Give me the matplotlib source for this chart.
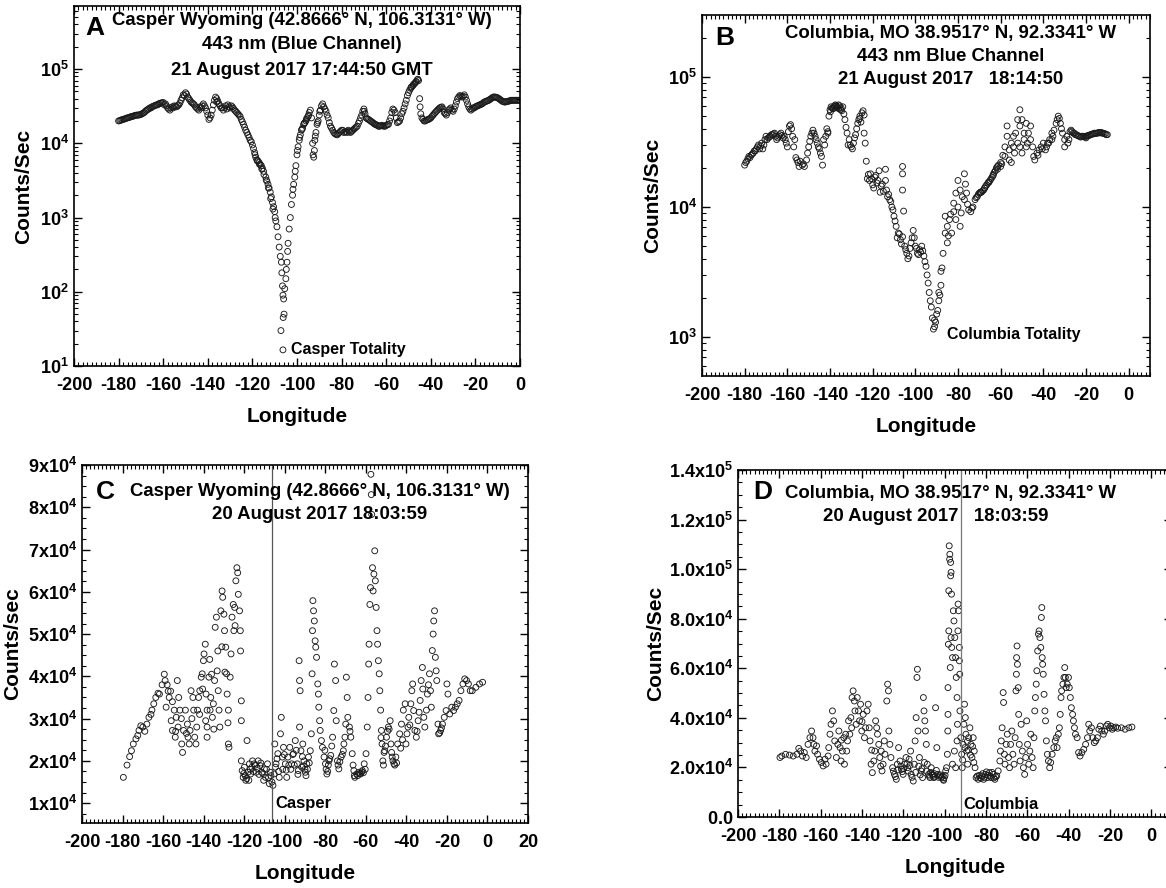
import numpy as np
import matplotlib
matplotlib.use('Agg')
import matplotlib.pyplot as plt
from matplotlib.ticker import FixedLocator, MultipleLocator, AutoMinorLocator, FuncFormatter, LogLocator, NullFormatter

plt.rcParams['font.family'] = ['Liberation Sans', 'DejaVu Sans']
plt.rcParams['font.weight'] = 'bold'
plt.rcParams['axes.unicode_minus'] = False
plt.rcParams['mathtext.fontset'] = 'custom'
plt.rcParams['mathtext.bf'] = 'Liberation Sans:bold'
plt.rcParams['mathtext.rm'] = 'Liberation Sans:bold'

# ---------------- Panel A: Casper, 21 Aug 2017 (counts in thousands)
a_lon = [-180, -179, -178, -177, -176, -175, -174, -173, -172, -171,
         -170, -169, -168, -167, -166, -165, -164, -163, -162, -161,
         -160, -159, -158, -157, -156, -155, -154, -153, -152, -151,
         -150, -149.5, -149, -148, -147, -146, -145, -144, -143, -142,
         -141, -140, -139.5, -139, -138, -137, -136.5, -136, -135, -134,
         -133, -132, -131, -130, -129, -128, -127, -126, -125, -124,
         -123, -122, -121, -120, -119, -118.5, -118, -117, -116, -115,
         -114, -113, -112, -111, -110, -109.5, -109, -108.5, -108, -107.5,
         -107, -106.8, -106.5, -106.3, -106, -106.2, -105.8, -107.2, -105.5, -105,
         -104.8, -104.5, -104.2, -104, -103.5, -103, -102.5, -102, -101.5, -101,
         -100.5, -100, -99.5, -99, -98.5, -98, -97, -96, -95, -94.5,
         -94, -93.5, -93, -92.8, -92.5, -92.2, -92, -91.5, -91, -90,
         -89, -88.5, -88, -87, -86, -85, -84, -83, -82, -81,
         -80, -79, -78, -77, -76, -75, -74, -73, -72, -71,
         -70, -69.5, -69, -68, -67, -66, -65, -64, -63, -62,
         -61, -60, -59, -58, -57, -56, -55, -54, -53, -52,
         -51, -50, -49, -48, -47, -46, -45.5, -45, -44.8, -44.5,
         -44, -43, -42, -41, -40, -39, -38, -37, -36, -35,
         -34, -33, -32, -31, -30, -29, -28, -27, -26, -25,
         -24, -23, -22, -21, -20, -19, -18, -17, -16, -15,
         -14, -13, -12, -11, -10, -9, -8, -7, -6, -5,
         -4, -3, -2, -1, 0,
         -165.5, -162.5, -159.5, -155.5, -152.5, -150.5, -147.5, -145.5, -143.5, -141.5,
         -138.5, -137.5, -135.5, -133.5, -131.5, -129.5, -127.5, -125.5, -123.5, -121.5,
         -119.5, -117.5, -116.5, -115.5, -113.5, -112.5, -111.5, -110.5, -97.5, -96.5,
         -95.5, -90.5, -89.5, -87.5, -86.5, -84.5, -83.5, -81.5, -79.5, -77.5,
         -75.5, -73.5, -71.5, -70.5, -68.5, -66.5, -63.5, -60.5, -58.5, -57.5,
         -55.5, -53.5, -51.5, -50.5, -49.5, -48.5, -47.5, -46.5, -42.5, -40.5,
         -38.5, -36.5, -34.5, -32.5, -30.5, -28.5, -26.5, -24.5, -22.5, -20.5,
         -18.5, -16.5, -14.5, -12.5, -10.5, -8.5, -6.5, -3.5,
         -179.5, -178.5, -177.5, -176.5, -175.5, -174.5, -173.5, -172.5, -171.5, -170.5,
         -169.5, -168.5, -167.5, -166.5, -164.5, -163.5, -161.5, -160.5, -158.5, -157.5,
         -156.5, -154.5, -153.5, -151.5, -148.5, -146.5, -144.5, -142.5, -140.5, -136,
         -134.5, -132.5, -130.5, -128.5, -126.5, -124.5, -122.5, -120.5, -118.8, -117.8,
         -116.8, -115.8, -114.8, -113.8, -112.8, -111.8, -110.8, -109.8, -101.8, -100.8,
         -99.8, -98.8, -97.8, -96.8, -95.8, -94.8, -91.8, -90.8, -89.8, -85.5,
         -82.5, -80.5, -78.5, -76.5, -74.5, -72.5, -69.8, -67.5, -65.5, -64.5,
         -62.5, -61.5, -59.5, -56.5, -54.5, -52.5, -48.8, -47.8, -46.8, -45.8,
         -43.5, -41.5, -39.5, -37.5, -35.5, -33.5, -31.5, -29.5, -27.5, -25.5,
         -23.5, -21.5, -19.5, -17.5, -15.5, -13.5, -11.5, -9.5, -7.5, -5.5,
         -4.5, -2.5, -1.5, -0.5]
a_kcounts = [20, 20.5, 21, 21.5, 22, 22.5, 23, 23.5, 24, 24,
             24.5, 25.5, 27, 28.5, 30, 31, 32, 33, 34, 35,
             35.5, 34, 30, 28, 31, 32, 31, 33, 38, 45,
             48, 46, 42, 38, 35, 33, 30, 28, 30, 34,
             30, 24, 21, 22, 28, 38, 42, 40, 34, 30,
             28, 32, 33, 30, 31, 28, 26, 24, 21, 18,
             15, 13, 11, 9.5, 7.5, 6.5, 6, 5.5, 5, 4.2,
             3.5, 2.8, 2.2, 1.6, 1.2, 0.9, 0.75, 0.55, 0.4, 0.3,
             0.25, 0.18, 0.12, 0.09, 0.08, 0.045, 0.05, 0.03, 0.11, 0.15,
             0.2, 0.25, 0.35, 0.45, 0.7, 1.0, 1.5, 2.0, 2.8, 3.5,
             5, 7, 9, 11, 13, 15, 18, 20, 23, 26,
             28, 22, 10, 7, 6.5, 8, 11, 14, 18, 24,
             32, 34, 31, 27, 22, 17, 15, 13.5, 13, 14,
             15, 14, 14.5, 15, 14, 15, 16, 17, 20, 24,
             29, 25, 22, 21, 20, 19, 18, 17.5, 17, 17.5,
             17, 17.5, 18, 22, 29, 26, 19, 20, 25, 30,
             38, 48, 55, 60, 65, 72, 70, 40, 31, 25,
             22, 20, 20.5, 21, 22, 24, 26, 28, 30, 31,
             26, 24, 28, 30, 27, 32, 40, 44, 42, 45,
             38, 31, 28, 30, 31, 32, 33, 34, 36, 37,
             38, 40, 42, 42, 41, 39, 37, 36, 36.5, 37,
             38, 38, 38, 38, 38,
             30, 33, 33, 30, 35, 44, 36, 31, 31, 32,
             24, 33, 37, 30, 29, 32, 27, 23, 16.5, 12,
             8.5, 5.8, 5.2, 4.6, 3.1, 2.5, 1.9, 1.4, 16, 19,
             22, 20, 28, 29, 24, 16, 14, 13.5, 15, 14,
             14.5, 16.5, 22, 27, 21.5, 19.5, 17, 17, 20, 26,
             22, 22, 34, 44, 52, 58, 63, 68, 20, 21.5,
             25, 29, 29, 26, 28, 36, 43, 42, 29, 30,
             32.5, 35, 37.5, 41, 41.5, 38, 36, 38,
             20.2, 20.8, 21.2, 21.8, 22.2, 22.8, 23.2, 23.8, 24, 24.3,
             25, 26, 27.8, 29, 31.5, 32.5, 34.5, 35, 32, 29,
             30, 31.5, 32, 41, 40, 34, 29, 32, 27, 36,
             32, 30, 31, 29.5, 25, 19.5, 14, 10.5, 7, 5.8,
             5.2, 4.5, 3.8, 3.2, 2.5, 1.8, 1.3, 1.0, 2.4, 4.2,
             8, 12, 15.5, 18.5, 21, 24, 12.5, 19, 27, 19,
             13.2, 14.5, 14.2, 14.5, 15.5, 18.5, 27, 20.5, 18.5, 17.8,
             17.2, 17.2, 17.8, 28, 19.5, 27, 57, 62, 67, 73,
             21, 20.8, 23, 27, 30.5, 25, 29, 29, 42, 43,
             34, 29, 31.5, 33.5, 36.5, 39, 42, 40, 36.5, 36.8,
             37.5, 38, 38, 38]
a_totality = (-106.3, 0.0165)

# ---------------- Panel B: Columbia, 21 Aug 2017 (thousands)
b_lon = [-180, -179, -178, -177, -176, -175, -174, -173, -172, -171,
         -170, -169, -168, -167, -166, -165, -164, -163, -162, -161,
         -160, -159, -158, -157.5, -157, -156.5, -156, -155, -154, -153,
         -152, -151, -150, -149, -148, -147, -146, -145, -144, -143.5,
         -143, -142, -141, -140, -139, -138, -137, -136, -135, -134,
         -133, -132, -131, -130, -129, -128, -127, -126, -125, -124,
         -124, -123.5, -123, -122, -121, -120, -119, -118, -117, -116,
         -115, -114, -114, -113, -112, -111, -110, -109, -108, -107,
         -106, -106, -106, -106, -105.5, -105, -104, -103, -102, -101,
         -100, -99, -98, -97, -96, -95, -94, -93, -92, -91,
         -91, -90, -89, -89, -88, -88, -87, -86, -86, -85,
         -85, -84, -83, -82, -82, -81, -81, -80, -80, -79,
         -79, -78, -77, -77, -76, -75, -74, -73, -72, -71,
         -70, -69, -68, -67, -66, -65, -64, -63, -62, -61,
         -60, -60, -59, -58, -58, -57, -57, -56, -56, -55,
         -55, -54, -54, -53, -52, -52, -51, -51, -51, -50,
         -50, -49, -49, -48, -48, -47, -46, -46, -45, -44,
         -43, -42, -41, -40, -39, -38, -37, -36, -36, -35,
         -34, -33, -32, -31, -30, -30, -29, -28, -27, -26,
         -25, -24, -23, -22, -21, -20, -19, -18, -17, -16,
         -15, -14, -13, -12, -11, -10,
         -179.5, -177.5, -175.5, -173.5, -171.5, -169.5, -167.5, -165.5, -163.5, -161.5,
         -159.5, -158.5, -155.5, -154.5, -152.5, -150.5, -149.5, -147.5, -146.5, -144.5,
         -142.5, -141.5, -140.5, -139.5, -138.5, -137.5, -136.5, -135.5, -134.5, -133.5,
         -132.5, -131.5, -130.5, -129.5, -128.5, -127.5, -126.5, -125.5, -124.5, -122.5,
         -121.5, -120.5, -119.5, -118.5, -117.5, -116.5, -115.5, -113.5, -112.5, -111.5,
         -110.5, -109.5, -108.5, -107.5, -106.5, -104.5, -103.5, -102.5, -101.5, -100.5,
         -99.5, -98.5, -97.5, -96.5, -95.5, -94.5, -93.5, -92.5, -91.5, -90.5,
         -89.5, -88.5, -87.5, -84.5, -83.5, -78.5, -76.5, -75.5, -73.5, -71.5,
         -69.5, -67.5, -65.5, -63.5, -61.5, -59.5, -53.5, -47.5, -44.5, -42.5,
         -40.5, -38.5, -37.5, -35.5, -33.5, -32.5, -31.5, -28.5, -26.5, -24.5,
         -22.5, -20.5, -18.5, -16.5, -14.5, -12.5, -10.5,
         -178.5, -176.5, -174.5, -172.5, -170.5, -168.5, -166.5, -164.5, -162.5, -160.5,
         -148.5, -145.5, -141, -139.8, -138.8, -137.8, -136.8, -135.8, -134.8, -126,
         -70.5, -69.5, -68.5, -67.5, -66.5, -65.5, -64.5, -63.5, -62.5, -61.5,
         -23.5, -21.5, -19.5, -17.5, -15.5, -13.5, -11.5, -20, -25.5, -27.5]
b_kcounts = [21, 22.5, 24.5, 25, 26, 27, 29, 28, 31, 30,
             35, 34, 35, 36, 37, 33, 35, 37, 34, 33,
             29, 42, 40, 35, 29, 33, 24, 22, 22.5, 21,
             20.5, 23, 29, 35, 39, 35, 31, 28, 24.5, 21,
             33, 35, 37, 56, 58, 59, 60, 61, 56, 59,
             47, 37, 33, 29, 31, 36, 44, 50, 53, 51,
             37, 31, 22.5, 17.8, 18, 14.8, 17, 15.3, 19, 14.5,
             13.2, 16, 19.5, 12, 11.4, 10, 8.5, 7.1, 6.3, 5.6,
             5.9, 20.5, 18, 13.5, 9.3, 5, 4.4, 4.2, 5.3, 6.6,
             5, 4.4, 4.7, 5, 4.2, 3.5, 2.6, 1.9, 1.4, 1.2,
             1.35, 1.5, 1.9, 2.2, 2.5, 3.2, 4.4, 6.3, 8.5, 5.3,
             7.1, 8, 6.3, 10.7, 9.2, 12.8, 8, 16, 10, 13.5,
             7.1, 12, 18, 11.4, 12.8, 9.5, 9.2, 10, 11.4, 12,
             12.8, 13, 13.5, 14.5, 15.3, 16, 17, 18.5, 20, 21,
             22, 20.5, 25, 29, 24.5, 42, 35, 27.5, 23, 22,
             31, 29, 35, 37, 31, 47, 56, 29, 42, 26,
             47, 37, 33, 44, 29, 37, 33, 42, 29, 23,
             26, 27.5, 29, 31, 27.5, 31, 33, 33, 37, 39,
             44, 50, 44, 37, 33, 29, 35, 33, 39, 37,
             36, 35.5, 35, 35, 35, 35, 35.5, 36, 36.5, 37,
             37, 37.5, 37.5, 37, 36.5, 36,
             22, 24, 27, 30, 28, 33, 36, 35, 36, 35,
             38, 43, 23, 20.5, 21.5, 26, 32, 37, 33, 26,
             30, 40, 50, 59, 57, 61, 58, 60, 55, 52,
             41, 30, 30, 28, 34, 40, 47, 45, 55, 16.5,
             16, 16.5, 14, 17.5, 16, 13, 15, 13.5, 12.5, 11,
             9.5, 7.8, 5.8, 6.2, 5.2, 4.7, 4, 4.8, 5.8, 5.8,
             4.8, 4.3, 4.5, 4.6, 3.8, 3, 2.2, 1.7, 1.15, 1.3,
             1.6, 2.1, 3.4, 6, 8.8, 9, 15, 10.5, 9.8, 11.8,
             13, 14, 15.5, 17.5, 19.5, 21.5, 26, 31, 24.5, 25,
             28, 29, 31, 35, 47, 48, 40, 31, 38, 36,
             34.5, 34.5, 35.5, 36.5, 37, 37, 36,
             23.5, 25.5, 28, 29.5, 33, 34.5, 36.5, 34, 35.5, 31,
             37, 29, 38, 54, 57, 60, 59, 57, 58, 48,
             12.5, 12.9, 13.3, 14, 14.8, 15.6, 16.5, 17.8, 19, 20.5,
             35.2, 35, 35.2, 36.2, 36.8, 37.2, 36.8, 34, 37, 38]

# ---------------- Panel C: Casper, 20 Aug 2017 (thousands)
c_lon = [-179.6, -177.8, -176.5, -175.6, -174.7, -173.4, -171.9, -171.0, -169.0, -168.0,
         -167.0, -165.5, -164.6, -163.6, -161.8, -160.5, -159.4, -158.0, -157.0, -158.5,
         -156.3, -155.4, -154.5, -156.0, -155.4, -154.0, -153.5, -152.6, -153.0, -152.3,
         -151.7, -150.8, -150.4, -149.9, -149.0, -148.0, -147.7, -147.1, -146.7, -146.2,
         -145.3, -144.9, -144.4, -143.8, -143.4, -143.0, -142.5, -141.9, -141.2, -140.7,
         -140.1, -139.8, -139.2, -138.8, -138.3, -138.3, -138.3, -137.4, -137.0, -136.1,
         -136.5, -135.7, -135.2, -134.6, -134.3, -133.7, -133.3, -132.8, -132.4, -132.0,
         -131.5, -130.9, -130.6, -130.0, -129.7, -129.1, -128.7, -128.4, -127.8, -127.8,
         -127.5, -126.9, -126.5, -126.0, -125.4, -125.1, -124.7, -124.1, -123.6, -123.2,
         -122.9, -122.3, -121.9, -121.8, -121.4, -121.4, -121.4, -121.0, -120.5, -119.9,
         -119.2, -118.6, -118.1, -117.7, -117.4, -116.8, -115.9, -115.0, -114.1, -113.1,
         -112.2, -111.3, -110.4, -110.0, -109.5, -108.5, -107.6, -107.1, -106.3, -105.8,
         -105.2, -104.9, -104.3, -103.4, -102.7, -102.1, -101.7, -101.2, -100.6, -99.7,
         -99.0, -98.4, -97.5, -96.6, -95.7, -94.8, -93.8, -93.3, -92.9, -92.7,
         -92.4, -92.7, -92.0, -91.6, -91.1, -90.5, -89.8, -89.1, -88.3, -87.4,
         -86.9, -86.5, -86.3, -86.1, -85.8, -85.4, -85.0, -84.7, -84.3, -83.7,
         -83.4, -83.2, -82.8, -82.5, -81.9, -81.4, -80.6, -79.9, -79.2, -78.2,
         -77.3, -76.4, -75.8, -75.5, -74.9, -74.6, -74.0, -73.3, -72.2, -71.1,
         -70.3, -69.9, -69.6, -69.2, -68.9, -68.1, -67.4, -66.7, -65.9, -65.4,
         -64.5, -63.5, -62.6, -61.7, -60.8, -59.9, -59.3, -58.9, -58.6, -58.4,
         -58.0, -57.7, -57.5, -57.3, -57.1, -56.7, -56.4, -56.0, -55.6, -55.3,
         -54.9, -54.5, -54.2, -53.8, -53.4, -53.1, -52.7, -52.3, -52.0, -51.6,
         -50.7, -49.8, -48.9, -48.0, -47.6, -47.0, -46.1, -45.2, -44.3, -43.3,
         -42.4, -41.5, -40.6, -40.2, -39.7, -38.8, -37.8, -37.3, -36.9, -36.4,
         -35.8, -35.1, -34.2, -33.2, -32.7, -32.1, -31.4, -30.9, -30.1, -29.6,
         -28.6, -28.1, -27.7, -27.2, -26.8, -26.5, -26.1, -25.7, -25.3, -25.0,
         -24.4, -24.1, -23.1, -22.2, -21.3, -20.4, -20.0, -19.5, -18.6, -17.6,
         -16.7, -15.8, -14.9, -14.0, -13.1, -12.1, -11.2, -10.3, -9.4, -8.5,
         -7.5, -5.7, -3.9, -2.4,
         -172.5, -170, -166, -162.5, -159, -157.5, -153.8, -151, -148.5, -145.8,
         -142, -140.5, -139, -136.8, -135, -133, -131, -129.5, -128, -124.5,
         -120.2, -119.5, -118.8, -117, -116.2, -115.5, -114.5, -113.6, -112.7, -111.8,
         -110.8, -109, -108, -106.8, -104.6, -103.8, -103, -101, -100.2, -99.3,
         -98, -97, -96, -95.3, -94.3, -93.5, -91.3, -90.8, -90, -89.5,
         -88.8, -87.9, -80.2, -79.6, -78.8, -78.5, -77.8, -76.8, -73.7, -72.8,
         -71.6, -70.8, -67.8, -66.3, -65.7, -64, -63, -62, -61.2, -60.3,
         -52.5, -51.3, -51, -50.3, -49.3, -48.5, -47.3, -46.6, -45.7, -44.8,
         -42.8, -41.9, -39.2, -38.3, -34.7, -33.7, -31.9, -29.1, -23.6, -22.7]
c_kcounts = [16.1, 19, 21, 22.4, 24, 25.2, 27.2, 28.3, 27, 28.7,
             30.3, 32, 33.5, 35, 35.8, 38, 40.5, 38, 35, 32.7,
             36.5, 34, 32, 29.5, 27.2, 25.6, 30.3, 28, 39, 35,
             32, 24, 22, 27.2, 32, 28.7, 25.6, 24, 27.2, 36.6,
             35, 32, 25.6, 24, 28, 32, 35, 36.6, 39.8, 40.6,
             43.7, 45.3, 47.6, 35.8, 32, 28, 25.6, 39.8, 44, 40.5,
             35, 30.3, 33.5, 39, 51.6, 54, 41.3, 36.6, 32, 28,
             55.5, 60.2, 58.7, 54.7, 50.8, 46.9, 40.6, 35.8, 32, 24,
             23.2, 39.8, 45.3, 54, 57, 50.8, 56.3, 62.6, 65.7, 64.5,
             59.4, 55.5, 50.8, 46, 34.2, 29.5, 20, 17.7, 16.1, 18.5,
             15.4, 24.8, 17.3, 15.4, 19.3, 16.9, 20, 19.3, 17.3, 20,
             18.9, 17.3, 15.4, 18.1, 16.1, 19.3, 14.6, 17.3, 15, 14.2,
             16.9, 24, 19.3, 21.7, 16.1, 26.4, 30.3, 20.9, 23.2, 19.3,
             16.1, 20.9, 23.2, 19.3, 21.7, 24.8, 19.3, 17.7, 43.7, 39,
             36.6, 28, 22.4, 18.5, 24, 20, 17.3, 19.3, 20.9, 22.4,
             26.4, 40.6, 50.8, 57.9, 55.5, 53.1, 48.4, 46.9, 44.5, 38.2,
             35.8, 32.7, 29.5, 27.2, 24.8, 23.2, 20.9, 19.3, 16.9, 20,
             21.3, 25.6, 31.9, 42.9, 39, 29.5, 20, 18.1, 20.9, 22.4,
             25.6, 28.7, 39.8, 35, 30.3, 28, 25.6, 21.7, 17.7, 16.1,
             16.9, 17.3, 16.9, 17.7, 19.3, 21.7, 28, 35, 42.9, 47.6,
             57, 61, 87.8, 83, 78.3, 65.7, 60.2, 64.2, 69.7, 62.6,
             56.3, 50.8, 47.6, 43.7, 40.6, 36.6, 32, 27.2, 24, 20,
             22.4, 25.6, 28, 29.5, 24, 20.9, 19.3, 20.9, 24, 26.4,
             28.7, 32, 33.5, 24, 26.4, 30.3, 33.5, 36.6, 38.2, 31.9,
             27.2, 25.6, 29.5, 34.3, 39, 42.1, 30.3, 28, 32, 35.8,
             40.6, 36.6, 32.7, 46.1, 50, 53.1, 55.5, 44.5, 41.3, 39,
             28.7, 26.4, 27.2, 28.7, 30.3, 31.9, 38.2, 35.8, 31.1, 32.7,
             31.9, 32.7, 33.5, 34.3, 36.6, 38.2, 39.4, 39, 38.2, 36.6,
             36.6, 37.4, 38.2, 38.6,
             26, 28, 31, 36, 39, 36.5, 27, 30, 26.5, 30,
             31, 37, 29.5, 32, 27.5, 46, 47, 41, 29, 52,
             17, 16.5, 15.8, 18, 18.5, 17.5, 19, 18.2, 16.8, 19.5,
             17, 18, 16, 16.5, 18.5, 20.5, 17.5, 18, 21.5, 17.8,
             19, 18, 21.5, 19, 22.5, 16.8, 21, 18.8, 18, 16.5,
             18, 19.5, 22.5, 18, 17.5, 19, 20.5, 23.5, 19, 19.8,
             21.5, 24, 27, 19, 16.5, 16.5, 17, 17.4, 17.2, 18,
             25.5, 19, 22, 23.5, 27, 27.5, 22, 20, 19, 19.5,
             23, 25, 28, 28.5, 27, 31.5, 37, 38, 26.6, 27.8]
casper_lon = -106.3131

# ---------------- Panel D: Columbia, 20 Aug 2017 (thousands)
d_lon = [-179.7, -178.8, -177.0, -175.1, -173.3, -171.5, -170.6, -169.7, -168.8, -167.9,
         -167.0, -166.1, -165.2, -164.4, -163.7, -163.3, -162.8, -162.0, -161.5, -160.6,
         -159.7, -158.8, -157.9, -157.4, -156.4, -156.1, -155.5, -155.0, -154.3, -153.7,
         -153.2, -152.4, -151.7, -151.2, -150.6, -150.1, -149.5, -148.8, -148.5, -147.9,
         -147.4, -147.0, -146.5, -145.9, -145.4, -144.8, -144.3, -143.7, -143.4, -142.8,
         -142.3, -141.7, -141.2, -140.7, -140.1, -139.4, -138.8, -138.3, -137.6, -137.0,
         -136.5, -136.1, -135.6, -135.0, -134.3, -133.8, -133.4, -132.9, -132.5, -131.9,
         -131.4, -130.7, -130.3, -129.8, -129.2, -128.9, -128.0, -127.6, -127.2, -127.0,
         -126.5, -126.0, -125.2, -124.3, -123.4, -122.9, -122.3, -121.6, -120.9, -120.1,
         -119.4, -118.7, -117.9, -117.2, -116.5, -116.2, -115.2, -114.7, -114.3, -113.8,
         -113.4, -113.2, -112.9, -112.2, -111.4, -110.7, -110.3, -110.0, -109.6, -109.3,
         -108.9, -108.4, -107.8, -107.1, -106.5, -106.0, -105.3, -104.4, -103.8, -103.4,
         -102.5, -101.6, -100.7, -100.2, -99.5, -99.1, -98.7, -98.5, -98.4, -98.4,
         -98.2, -98.0, -98.0, -97.8, -97.6, -97.5, -97.1, -96.9, -97.1, -96.7,
         -97.3, -96.9, -96.6, -96.2, -95.8, -95.5, -95.1, -94.7, -94.4, -94.0,
         -93.8, -93.6, -93.5, -93.3, -92.9, -92.9, -92.7, -94.0, -95.3, -96.2,
         -94.7, -92.6, -92.2, -91.8, -91.5, -91.1, -90.7, -90.4, -90.0, -89.7,
         -89.3, -88.9, -88.4, -87.8, -87.3, -86.8, -86.2, -85.7, -85.3, -84.8,
         -83.8, -82.9, -82.0, -81.1, -80.2, -79.3, -78.4, -77.5, -76.6, -75.7,
         -74.8, -74.1, -73.3, -73.0, -72.6, -72.2, -71.7, -71.5, -71.1, -70.8,
         -70.2, -69.7, -69.1, -68.6, -68.1, -67.5, -67.0, -66.4, -65.9, -65.5,
         -65.3, -65.2, -65.0, -64.8, -64.4, -64.2, -63.9, -63.5, -63.0, -62.4,
         -61.9, -61.3, -60.8, -60.3, -59.9, -59.3, -58.8, -58.3, -57.7, -57.2,
         -56.8, -56.4, -56.1, -55.7, -55.4, -55.0, -54.6, -54.3, -53.9, -53.5,
         -53.2, -53.0, -52.8, -52.6, -52.3, -51.9, -51.5, -51.2, -50.8, -50.3,
         -49.8, -49.2, -48.7, -48.0, -47.2, -46.5, -46.0, -45.6, -45.0, -44.5,
         -44.1, -43.7, -43.4, -42.8, -42.3, -41.9, -41.6, -41.2, -40.7, -40.1,
         -39.7, -39.2, -38.7, -38.1, -37.7, -37.2, -36.7, -35.9, -35.2, -34.5,
         -33.6, -32.7, -31.8, -30.9, -30.3, -29.8, -29.0, -28.3, -27.6, -26.9,
         -26.1, -25.4, -24.7, -24.0, -23.2, -22.5, -21.8, -21.1, -20.3, -19.6,
         -18.9, -18.2, -17.2, -16.3, -14.5, -12.7, -10.9, -9.4,
         -124.8, -123.8, -122.6, -121.2, -120.5, -119.8, -118.2, -117.6, -116.8, -115.8,
         -114, -112.6, -111.8, -111, -109.8, -108.7, -107.4, -106.8, -105.7, -105,
         -104.8, -104, -103, -102, -101.2, -100.5, -99.8, -84.3, -83.3, -82.4,
         -81.6, -80.7, -79.8, -78.9, -78, -77.1, -76.2, -75.3, -88.6, -87.5,
         -86.5, -85.9, -91.3, -90.2, -89, -150, -145, -140, -135.3, -131]
d_kcounts = [24, 24.6, 25.3, 25, 24.6, 25.3, 27.7, 26.6, 24.6, 26,
             24, 29.3, 32, 34.7, 32, 29.3, 26.6, 28.7, 25.3, 23.3,
             22, 20.6, 23.3, 21.3, 24.6, 28, 33.4, 37.4, 42.8, 38.8,
             30.7, 24, 29.3, 34.7, 28, 22.6, 26.6, 32, 21.3, 33.4,
             26.6, 30.7, 38.8, 33.4, 40.1, 48.2, 50.9, 46.8, 42.8, 37.4,
             48.2, 42.8, 38.8, 45.5, 34.7, 41.4, 32, 36, 42.8, 45.5,
             36, 30.7, 21.3, 17.9, 22.6, 26.6, 38.8, 36, 33.4, 29.3,
             24, 26.6, 18.6, 21.3, 30.7, 25.3, 46.8, 53.6, 50.9, 34.7,
             29.3, 24, 19.9, 17.2, 15.2, 21.3, 28, 22.6, 19.2, 17.2,
             21.3, 24, 19.9, 23.3, 26.6, 17.2, 14.5, 21.3, 30.7, 40.1,
             56.3, 59.6, 34.7, 24, 18.6, 15.9, 48.2, 42.8, 38.8, 34.7,
             29.3, 21.3, 17.2, 15.9, 19.9, 17.2, 15.9, 44.1, 28, 17.2,
             16.6, 15.9, 15.2, 15.9, 18.6, 19.9, 25.3, 34.7, 41.4, 52.2,
             69.7, 75.1, 91.3, 109.4, 104, 106, 102.7, 98.7, 97.3, 89.9,
             60.3, 72.4, 68.4, 64.3, 83.2, 79.1, 72.4, 64.3, 56.3, 48.2,
             37.4, 75.1, 85.9, 83.2, 68.4, 63, 57.6, 30.7, 26.6, 21.3,
             19.9, 42.8, 32, 25.3, 19.9, 29.3, 37.4, 45.5, 40.1, 33.4,
             26.6, 21.3, 32, 36, 29.3, 24, 32, 26.6, 19.9, 15.9,
             15.2, 15.9, 16.6, 15.2, 17.2, 15.9, 17.9, 15.9, 17.2, 15.2,
             16.6, 18.6, 22.6, 26.6, 30.7, 36, 50.2, 46.2, 25.3, 21.3,
             29.3, 33.4, 24, 19.9, 29.3, 34.7, 25.3, 21.3, 32, 50.9,
             57.6, 64.3, 69, 61.6, 52.2, 41.4, 29.3, 22.6, 37.4, 26.6,
             19.9, 17.2, 24, 38.8, 29.3, 21.3, 26.6, 33.4, 24, 19.9,
             32, 42.8, 48.2, 53.6, 59, 67, 73.8, 75.1, 72.4, 68.4,
             80.5, 84.5, 64.3, 61.6, 57.6, 49.5, 42.8, 38.8, 30.7, 25.3,
             22.6, 19.9, 22, 25.3, 28, 30.7, 32, 28, 33.4, 36,
             41.4, 48.2, 50.9, 53.6, 56.3, 60.3, 56.3, 52.2, 53.6, 56.3,
             52.2, 48.2, 44.1, 41.4, 38.8, 36, 33.4, 32, 26, 24.6,
             26, 27.3, 29.3, 32, 37.4, 34.7, 36, 32, 30, 30.7,
             32, 35.4, 36.7, 34.7, 33.4, 34.7, 36.7, 37.4, 36, 36.7,
             35.4, 36, 36.3, 35.8, 36, 35.4, 36, 36.3,
             18.5, 16.3, 19, 20.5, 18.3, 19.5, 21.5, 18.5, 20.8, 16,
             18, 20.5, 17, 19.5, 22, 18.5, 16.5, 18, 16.8, 17.5,
             16.2, 18.8, 16, 17, 16.5, 14.8, 16.8, 16.5, 16.8, 15.6,
             17.5, 16, 18.2, 16.8, 16.5, 18, 15.8, 16.2, 27, 25,
             28.5, 22, 23, 28, 30.5, 31, 36, 38.5, 27, 20.5]
columbia_lon = -92.3341

W, H = 1166, 888
fig = plt.figure(figsize=(W / 100, H / 100), dpi=100)


def box(l, t, r, b):
    return [l / W, 1 - b / H, (r - l) / W, (b - t) / H]


def style(ax, xlim, xlab, ylab, ylabpad):
    ax.set_xlim(*xlim)
    ax.xaxis.set_major_locator(MultipleLocator(20))
    ax.xaxis.set_minor_locator(MultipleLocator(2))
    ax.tick_params(which='both', direction='in', top=True, right=True,
                   labelsize=13, width=1.0)
    ax.tick_params(which='major', length=6)
    ax.tick_params(which='minor', length=3, width=0.8)
    ax.tick_params(axis='x', which='major', pad=8)
    for lab in ax.get_xticklabels() + ax.get_yticklabels():
        lab.set_fontweight('bold')
    for s in ax.spines.values():
        s.set_linewidth(1.2)
    ax.set_xlabel(xlab, fontsize=15, fontweight='bold', labelpad=9)
    ax.set_ylabel(ylab, fontsize=15, fontweight='bold', labelpad=ylabpad)


def dots(ax, x, y):
    ax.scatter(x, y, s=18, facecolors='none', edgecolors='#1a1a1a', linewidths=0.65)


def log_axis(ax, lo, hi, majors):
    ax.set_yscale('log')
    ax.set_ylim(lo, hi)
    ax.yaxis.set_major_locator(FixedLocator(majors))
    ax.yaxis.set_minor_locator(LogLocator(base=10, subs=np.arange(2, 10), numticks=20))
    ax.yaxis.set_minor_formatter(NullFormatter())
    ax.yaxis.set_major_formatter(
        FuncFormatter(lambda v, p: r'$\mathbf{10^{%d}}$' % round(np.log10(v))))


TFS = 13.4

# ---- A
axA = fig.add_axes(box(74, 6, 520, 366))
dots(axA, a_lon, np.array(a_kcounts) * 1000)
dots(axA, [a_totality[0]], [a_totality[1] * 1000])
axA.text(a_totality[0] + 3.5, a_totality[1] * 1000, 'Casper Totality', fontsize=11.5,
         fontweight='bold', va='center')
log_axis(axA, 10, 10 ** 5.85, [1e1, 1e2, 1e3, 1e4, 1e5])
style(axA, (-200, 0), 'Longitude', 'Counts/Sec', 5)
axA.text(0.025, 0.94, 'A', transform=axA.transAxes, fontsize=19, fontweight='bold', va='center')
for yy, line in zip([0.961, 0.892, 0.822], ['Casper Wyoming (42.8666° N, 106.3131° W)',
                                            '443 nm (Blue Channel)',
                                            '21 August 2017 17:44:50 GMT']):
    axA.text(0.51, yy, line, transform=axA.transAxes, ha='center', va='center',
             fontsize=TFS, fontweight='bold')

# ---- B
axB = fig.add_axes(box(702, 15, 1150, 376))
dots(axB, b_lon, np.array(b_kcounts) * 1000)
axB.text(-85, 1050, 'Columbia Totality', fontsize=11.5, fontweight='bold', va='center')
log_axis(axB, 10 ** 2.7, 10 ** 5.477, [1e3, 1e4, 1e5])
style(axB, (-200, 10), 'Longitude', 'Counts/Sec', 4)
axB.text(0.03, 0.935, 'B', transform=axB.transAxes, fontsize=19, fontweight='bold', va='center')
for yy, line in zip([0.95, 0.884, 0.82], ['Columbia, MO 38.9517° N, 92.3341° W',
                                          '443 nm Blue Channel',
                                          '21 August 2017   18:14:50']):
    axB.text(0.555, yy, line, transform=axB.transAxes, ha='center', va='center',
             fontsize=TFS, fontweight='bold')

# ---- C
axC = fig.add_axes(box(82, 465, 528, 823))
dots(axC, c_lon, np.array(c_kcounts) * 1000)
axC.axvline(casper_lon, color='#555555', lw=0.9)
axC.text(casper_lon + 1.5, 1.0e4, 'Casper', fontsize=12, fontweight='bold', va='center')
axC.set_ylim(5300, 9e4)
axC.yaxis.set_major_locator(MultipleLocator(1e4))
axC.yaxis.set_minor_locator(AutoMinorLocator(4))
axC.yaxis.set_major_formatter(
    FuncFormatter(lambda v, p: r'$\mathbf{%dx10^{4}}$' % round(v / 1e4) if v > 0 else ''))
style(axC, (-200, 20), 'Longitude', 'Counts/sec', 4)
axC.text(0.03, 0.925, 'C', transform=axC.transAxes, fontsize=19, fontweight='bold', va='center')
for yy, line in zip([0.927, 0.863], ['Casper Wyoming (42.8666° N, 106.3131° W)',
                                     '20 August 2017 18:03:59']):
    axC.text(0.533, yy, line, transform=axC.transAxes, ha='center', va='center',
             fontsize=TFS, fontweight='bold')


# ---- D
def d_fmt(v, p):
    if abs(v) < 1:
        return r'$\mathbf{0.0}$'
    if v < 0:
        return ''
    e = int(np.floor(np.log10(v) + 1e-9))
    return r'$\mathbf{%.1fx10^{%d}}$' % (v / 10 ** e, e)


axD = fig.add_axes(box(738, 470, 1172, 817))
dots(axD, d_lon, np.array(d_kcounts) * 1000)
axD.axvline(columbia_lon, color='#777777', lw=0.9)
axD.text(columbia_lon + 1.5, 5000, 'Columbia', fontsize=12, fontweight='bold', va='center')
axD.set_ylim(0, 1.4e5)
axD.yaxis.set_major_locator(MultipleLocator(2e4))
axD.yaxis.set_minor_locator(AutoMinorLocator(4))
axD.yaxis.set_major_formatter(FuncFormatter(d_fmt))
style(axD, (-200, 10), 'Longitude', 'Counts/Sec', 3)
axD.text(0.035, 0.937, 'D', transform=axD.transAxes, fontsize=19, fontweight='bold', va='center')
axD.text(0.49, 0.931, 'Columbia, MO 38.9517° N, 92.3341° W', transform=axD.transAxes,
         ha='center', va='center', fontsize=TFS, fontweight='bold')
axD.text(0.455, 0.867, '20 August 2017   18:03:59', transform=axD.transAxes,
         ha='center', va='center', fontsize=TFS, fontweight='bold')

fig.savefig('out.png', dpi=100)
